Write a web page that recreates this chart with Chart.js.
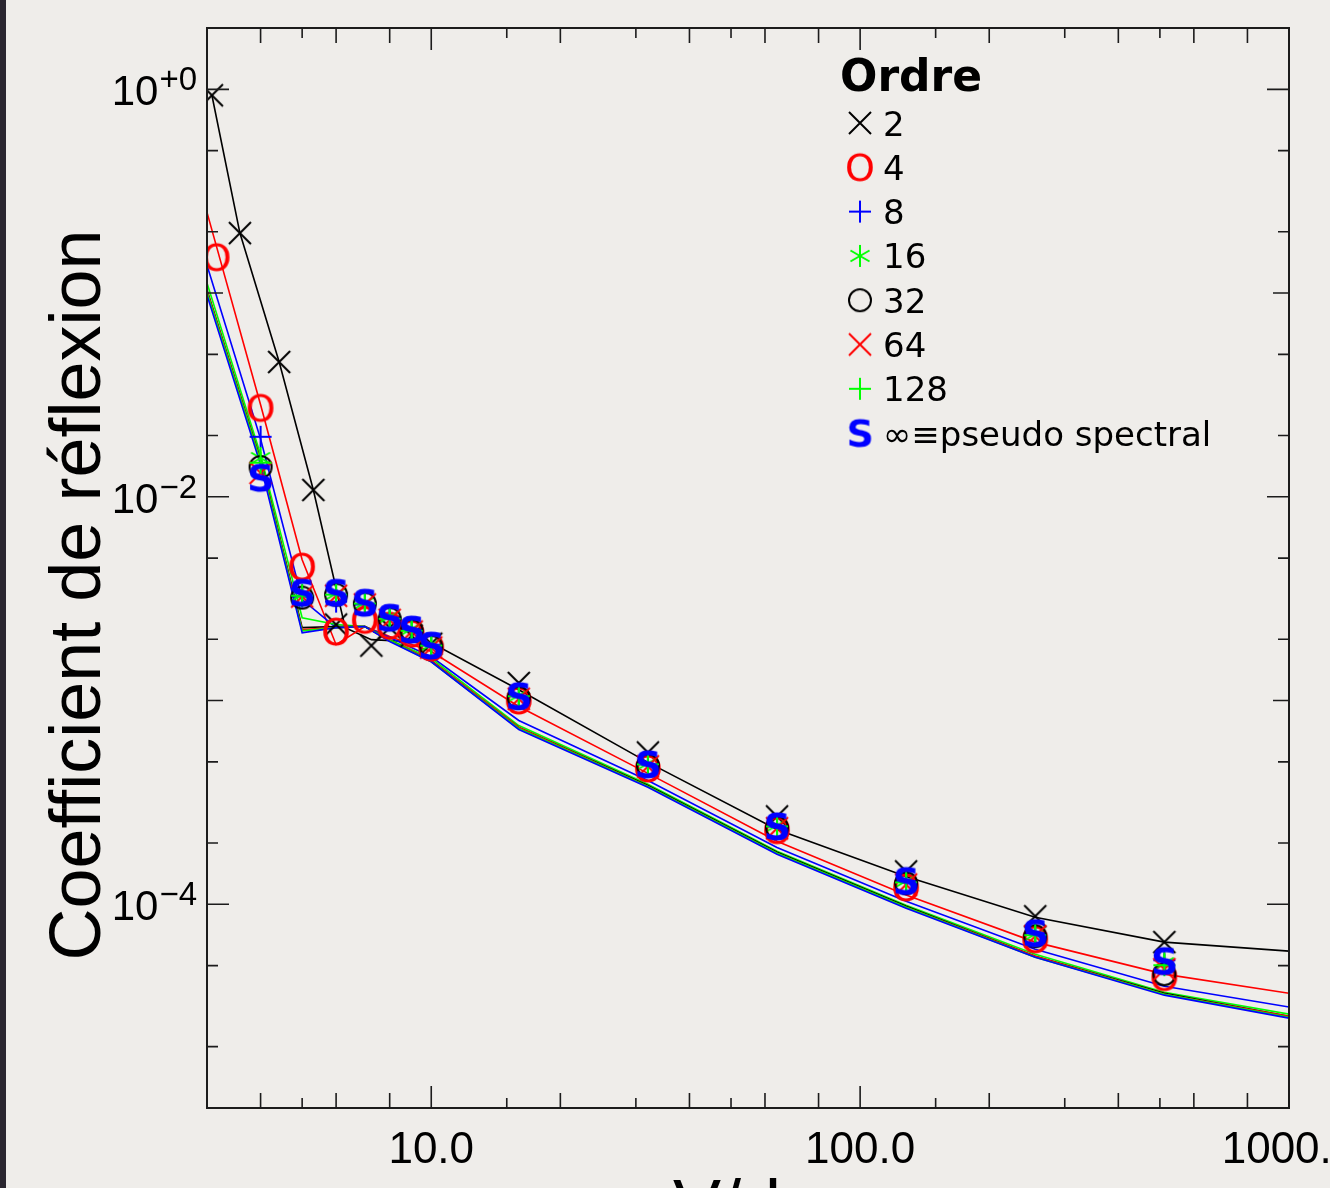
<!DOCTYPE html>
<html>
<head>
<meta charset="utf-8">
<title>Coefficient de réflexion</title>
<script src="https://cdn.jsdelivr.net/npm/chart.js@4.4.0/dist/chart.umd.min.js"></script>
<style>
  html, body { margin: 0; padding: 0; height: 1188px; overflow: hidden; background: #efedea; }
  #wrap { position: relative; width: 1330px; height: 1260px; }
  #strip { position: absolute; left: 0; top: 0; width: 6px; height: 1260px; background: #2a2630; }
</style>
</head>
<body>
<div id="wrap">
  <canvas id="chart" width="1330" height="1260"></canvas>
  <div id="strip"></div>
</div>
<script>
// curves (theory), one per order
const lineX = [3, 4, 5, 6, 7, 8, 10, 16, 32, 64, 128, 256, 512, 1000];
const line2X = [3.08, 3.58, 4.42, 5.31, 6.3, 7.25, 10, 16, 32, 64, 128, 256, 512, 1000];
const line2 = [0.935, 0.197, 0.0459, 0.0108, 0.00228, 0.00199, 0.00192, 0.00113, 4.97e-4, 2.33e-4, 1.37e-4, 8.63e-5, 6.52e-5, 5.89e-5];
const line4 = [0.249, 0.0283, 0.00491, 0.00188, 0.00231, 0.00206, 0.00174, 9.35e-4, 4.39e-4, 2.04e-4, 1.11e-4, 6.52e-5, 4.54e-5, 3.66e-5];
const line8 = [0.137, 0.0192, 0.00313, 0.00228, 0.00231, 0.00204, 0.00164, 7.98e-4, 4.05e-4, 1.90e-4, 1.035e-4, 6.01e-5, 3.96e-5, 3.13e-5];
const line16 = [0.112, 0.0161, 0.00255, 0.00236, 0.00231, 0.00199, 0.00161, 7.54e-4, 3.88e-4, 1.82e-4, 9.89e-5, 5.69e-5, 3.70e-5, 2.89e-5];
const line32 = [0.1035, 0.0152, 0.00228, 0.00231, 0.00231, 0.00197, 0.00157, 7.38e-4, 3.83e-4, 1.80e-4, 9.78e-5, 5.56e-5, 3.66e-5, 2.82e-5];
const line64 = [0.1023, 0.0150, 0.00223, 0.00228, 0.00231, 0.00197, 0.00157, 7.38e-4, 3.79e-4, 1.78e-4, 9.67e-5, 5.56e-5, 3.62e-5, 2.82e-5];
const line128 = [0.101, 0.01485, 0.0022, 0.00228, 0.00231, 0.00197, 0.00155, 7.29e-4, 3.79e-4, 1.78e-4, 9.67e-5, 5.50e-5, 3.62e-5, 2.79e-5];
const lineS = [0.0977, 0.01435, 0.00215, 0.00228, 0.00231, 0.00195, 0.00155, 7.21e-4, 3.75e-4, 1.76e-4, 9.56e-5, 5.50e-5, 3.58e-5, 2.76e-5];

// measured points (markers)
const mark2X = [3.08, 3.58, 4.42, 5.31, 6, 7.25, 8, 9, 10, 16, 32, 64, 128, 256, 512];
const mark2 = [0.935, 0.197, 0.0459, 0.0108, 2.36e-3, 1.86e-3, 2.28e-3, 2.08e-3, 1.90e-3, 1.22e-3, 5.56e-4, 2.70e-4, 1.45e-4, 8.73e-5, 6.52e-5];
const mark4X = [3.16, 4, 5, 6, 7, 8, 9, 10, 16, 32, 64, 128, 256, 512];
const mark4 = [0.150, 0.0273, 4.54e-3, 2.18e-3, 2.49e-3, 2.33e-3, 2.13e-3, 1.82e-3, 1.0e-3, 4.64e-4, 2.31e-4, 1.21e-4, 6.73e-5, 4.39e-5];
const markX = [4, 5, 6, 7, 8, 9, 10, 16, 32, 64, 128, 256, 512];
const mark8 = [0.0197, 3.24e-3, 3.06e-3, 2.96e-3, 2.55e-3, 2.23e-3, 1.88e-3, 1.05e-3, 4.86e-4, 2.41e-4, 1.30e-4, 7.21e-5, 5.31e-5];
const mark16 = [0.0155, 3.31e-3, 3.35e-3, 3.02e-3, 2.58e-3, 2.25e-3, 1.88e-3, 1.06e-3, 4.91e-4, 2.44e-4, 1.30e-4, 7.13e-5, 5.14e-5];
const mark32 = [0.0140, 3.20e-3, 3.31e-3, 2.99e-3, 2.52e-3, 2.20e-3, 1.84e-3, 1.03e-3, 4.80e-4, 2.38e-4, 1.27e-4, 6.97e-5, 4.54e-5];
const mark64 = [0.0131, 3.24e-3, 3.27e-3, 2.96e-3, 2.49e-3, 2.18e-3, 1.82e-3, 1.02e-3, 4.75e-4, 2.36e-4, 1.25e-4, 6.97e-5, 4.80e-5];
const mark128 = [0.0147, 3.27e-3, 3.31e-3, 2.99e-3, 2.52e-3, 2.20e-3, 1.86e-3, 1.05e-3, 4.86e-4, 2.41e-4, 1.28e-4, 7.05e-5, 5.02e-5];
const markS = [0.0124, 3.38e-3, 3.38e-3, 3.02e-3, 2.55e-3, 2.23e-3, 1.86e-3, 1.05e-3, 4.86e-4, 2.41e-4, 1.30e-4, 7.21e-5, 5.26e-5];

const orderLabels = ['2', '4', '8', '16', '32', '64', '128', '∞≡pseudo spectral'];
const colors = ['#000000', '#ff0000', '#0000ff', '#00ff00', '#000000', '#ff0000', '#00ff00', '#0000ff'];

// ticks and tick labels
const xTickMajor = [10, 100, 1000];
const xTickMid = [4, 6, 8, 20, 40, 60, 80, 200, 400, 600, 800];
const xTickShort = [5, 15, 30, 50, 150, 300, 500];
const xLabelVals = [10, 100, 1000];
const xLabels = ['10.0', '100.0', '1000.0'];
const yTickMajor = [1, 1e-2, 1e-4];
const yTickMid = [1e-1, 1e-3, 1e-5];
const yTickShort = [0.5, 0.2, 0.05, 0.02, 5e-3, 2e-3, 5e-4, 2e-4, 5e-5, 2e-5];
const yLabelVals = [1, 1e-2, 1e-4];
const yLabelExp = ['+0', '\u22122', '\u22124'];

// marker images
function glyph(ch, font, color) {
  const c = document.createElement('canvas');
  let g = c.getContext('2d');
  g.font = font;
  const m = g.measureText(ch);
  c.width = Math.ceil(m.actualBoundingBoxLeft + m.actualBoundingBoxRight) + 4;
  c.height = Math.ceil(m.actualBoundingBoxAscent + m.actualBoundingBoxDescent) + 4;
  g = c.getContext('2d');
  g.font = font;
  g.fillStyle = color;
  g.fillText(ch, 2 + m.actualBoundingBoxLeft, 2 + m.actualBoundingBoxAscent);
  return c;
}

function strokes(color, draw) {
  const c = document.createElement('canvas');
  c.width = 26; c.height = 26;
  const g = c.getContext('2d');
  g.strokeStyle = color;
  g.lineWidth = 2;
  g.beginPath();
  draw(g);
  g.stroke();
  return c;
}

const crossX = col => strokes(col, g => { g.moveTo(2, 2); g.lineTo(24, 24); g.moveTo(24, 2); g.lineTo(2, 24); });
const plus = col => strokes(col, g => { g.moveTo(2, 13); g.lineTo(24, 13); g.moveTo(13, 2); g.lineTo(13, 24); });
const star = col => strokes(col, g => {
  [90, 30, 150].forEach(a => {
    const r = 11, t = a * Math.PI / 180;
    g.moveTo(13 - r * Math.cos(t), 13 - r * Math.sin(t));
    g.lineTo(13 + r * Math.cos(t), 13 + r * Math.sin(t));
  });
});
const ring = col => strokes(col, g => { g.arc(13, 13, 11, 0, Math.PI * 2); });

const markers = [
  crossX('#000000'),
  glyph('O', '38px "DejaVu Sans"', '#ff0000'),
  plus('#0000ff'),
  star('#00ff00'),
  ring('#000000'),
  crossX('#ff0000'),
  plus('#00ff00'),
  glyph('S', 'bold 38px "DejaVu Sans"', '#0000ff')
];

const pts = (xs, ys) => xs.map((x, i) => ({ x: x, y: ys[i] }));

const lineSets = [
  pts(line2X, line2), pts(lineX, line4), pts(lineX, line8), pts(lineX, line16),
  pts(lineX, line32), pts(lineX, line64), pts(lineX, line128), pts(lineX, lineS)
];
const markSets = [
  pts(mark2X, mark2), pts(mark4X, mark4), pts(markX, mark8), pts(markX, mark16),
  pts(markX, mark32), pts(markX, mark64), pts(markX, mark128), pts(markX, markS)
];

const datasets = [];
lineSets.forEach((d, i) => {
  datasets.push({
    label: 'curve ' + orderLabels[i], data: d, showLine: true, pointRadius: 0,
    borderColor: colors[i], borderWidth: 1.6, fill: false, tension: 0, order: 100 - i
  });
});
markSets.forEach((d, i) => {
  datasets.push({
    label: orderLabels[i], data: d, showLine: false, pointRadius: 6,
    pointStyle: markers[i], order: 50 - i
  });
});

const decor = {
  id: 'decor',
  beforeDraw(chart) {
    const ctx = chart.ctx;
    ctx.save();
    ctx.fillStyle = '#efedea';
    ctx.fillRect(0, 0, chart.width, chart.height);
    ctx.restore();
  },
  afterDraw(chart) {
    const { ctx, chartArea: a } = chart;
    const xs = chart.scales.x, ys = chart.scales.y;
    ctx.save();
    ctx.strokeStyle = '#1c1c1c';
    ctx.lineWidth = 2;
    ctx.strokeRect(a.left, a.top, a.right - a.left, a.bottom - a.top);

    ctx.lineWidth = 1.6;
    ctx.beginPath();
    const xt = (vals, len) => vals.forEach(v => {
      const px = xs.getPixelForValue(v);
      ctx.moveTo(px, a.bottom); ctx.lineTo(px, a.bottom - len);
      ctx.moveTo(px, a.top); ctx.lineTo(px, a.top + len);
    });
    const yt = (vals, len) => vals.forEach(v => {
      const py = ys.getPixelForValue(v);
      ctx.moveTo(a.left, py); ctx.lineTo(a.left + len, py);
      ctx.moveTo(a.right, py); ctx.lineTo(a.right - len, py);
    });
    xt(xTickMajor, 22); xt(xTickMid, 15); xt(xTickShort, 10);
    yt(yTickMajor, 22); yt(yTickMid, 16); yt(yTickShort, 11);
    ctx.stroke();

    // tick labels
    ctx.fillStyle = '#000';
    ctx.font = '44px "Liberation Sans", Arial, sans-serif';
    ctx.textAlign = 'center';
    ctx.textBaseline = 'alphabetic';
    xLabelVals.forEach((v, i) => ctx.fillText(xLabels[i], xs.getPixelForValue(v), a.bottom + 55));

    yLabelVals.forEach((v, i) => {
      const py = ys.getPixelForValue(v);
      ctx.font = '33px "Liberation Sans", Arial, sans-serif';
      const supW = ctx.measureText(yLabelExp[i]).width;
      ctx.textAlign = 'left';
      ctx.fillText(yLabelExp[i], 197 - supW, py + 1);
      ctx.font = '42px "Liberation Sans", Arial, sans-serif';
      ctx.textAlign = 'right';
      ctx.fillText('10', 196 - supW, py + 16);
    });

    // axis titles
    ctx.font = '72px "Liberation Sans", Arial, sans-serif';
    ctx.textAlign = 'center';
    ctx.save();
    ctx.translate(100, 595);
    ctx.rotate(-Math.PI / 2);
    ctx.fillText('Coefficient de réflexion', 0, 0);
    ctx.restore();
    ctx.fillText('V/dx', 745, 1230);

    // legend
    ctx.textAlign = 'left';
    ctx.font = 'bold 44px "DejaVu Sans", sans-serif';
    ctx.fillText('Ordre', 840, 91);
    ctx.font = '34px "DejaVu Sans", sans-serif';
    orderLabels.forEach((lab, i) => {
      const cy = 123 + i * 44.3;
      const m = markers[i];
      ctx.drawImage(m, 860 - m.width / 2, cy - m.height / 2);
      ctx.fillText(lab, 883, cy + 12.5);
    });
    ctx.restore();
  }
};

new Chart(document.getElementById('chart'), {
  type: 'scatter',
  data: { datasets: datasets },
  options: {
    responsive: false,
    animation: false,
    layout: { padding: { left: 207, right: 41, top: 28, bottom: 152 } },
    plugins: { legend: { display: false }, tooltip: { enabled: false } },
    scales: {
      x: { type: 'logarithmic', min: 3, max: 1000, display: false },
      y: { type: 'logarithmic', min: 1e-5, max: 2, display: false }
    }
  },
  plugins: [decor]
});
</script>
</body>
</html>
